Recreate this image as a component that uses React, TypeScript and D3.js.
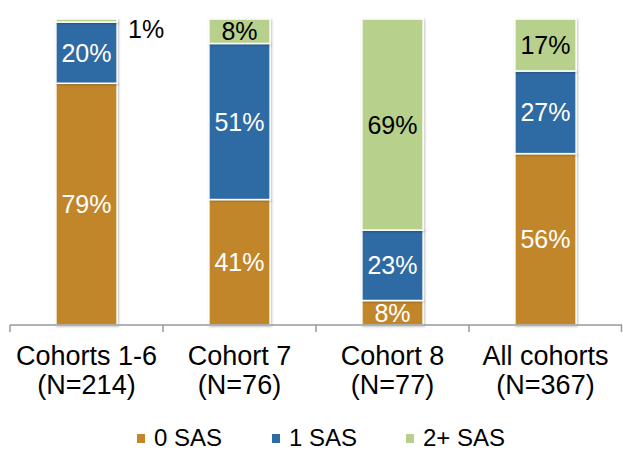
import { useEffect, useRef } from 'react';
import * as d3 from 'd3';

const categories = ['Cohorts 1-6', 'Cohort 7', 'Cohort 8', 'All cohorts'];
const sampleSizes = ['(N=214)', '(N=76)', '(N=77)', '(N=367)'];
const seriesNames = ['0 SAS', '1 SAS', '2+ SAS'];
const zeroSas = [79, 41, 8, 56];
const oneSas = [20, 51, 23, 27];
const twoPlusSas = [1, 8, 69, 17];
const colors = ['#C2862C', '#2E6BA4', '#B7D08B'];
const labelColors = ['#fff', '#fff', '#000'];

export default function App() {
    const svgRef = useRef<SVGSVGElement>(null);

    useEffect(() => {
        const svg = d3.select(svgRef.current);
        svg.selectAll('*').remove();

        const width = 623;
        const height = 450;
        const margin = { top: 19, right: 1, bottom: 125, left: 10 };
        const font = "'Liberation Sans', Arial, sans-serif";

        const rows = categories.map((c, i) => ({
            cat: c,
            '0 SAS': zeroSas[i],
            '1 SAS': oneSas[i],
            '2+ SAS': twoPlusSas[i],
        }));
        const stacked = d3.stack<any>().keys(seriesNames)(rows);

        const x = d3.scaleBand()
            .domain(categories)
            .range([margin.left, width - margin.right])
            .paddingInner(0.6)
            .paddingOuter(0.3);
        const y = d3.scaleLinear()
            .domain([0, 100])
            .range([height - margin.bottom, margin.top]);

        const defs = svg.append('defs');
        const f = defs.append('filter').attr('id', 'shadow')
            .attr('x', '-10%').attr('y', '-5%').attr('width', '130%').attr('height', '115%');
        f.append('feDropShadow')
            .attr('dx', 1).attr('dy', 1).attr('stdDeviation', 1.2)
            .attr('flood-color', '#000').attr('flood-opacity', 0.25);

        // bars
        stacked.forEach((layer, si) => {
            const g = svg.append('g').attr('filter', 'url(#shadow)');
            g.selectAll('rect')
                .data(layer)
                .enter().append('rect')
                .attr('x', d => x(d.data.cat)!)
                .attr('y', d => y(d[1]))
                .attr('width', x.bandwidth())
                .attr('height', d => y(d[0]) - y(d[1]))
                .attr('fill', colors[si])
                .attr('stroke', '#fff')
                .attr('stroke-width', 1.5);
        });

        // segment labels
        stacked.forEach((layer, si) => {
            layer.forEach(d => {
                const v = d[1] - d[0];
                const small = v < 3;
                svg.append('text')
                    .attr('x', small ? x(d.data.cat)! + x.bandwidth() + 29 : x(d.data.cat)! + x.bandwidth() / 2)
                    .attr('y', small ? y(d[1]) + 10 : (y(d[0]) + y(d[1])) / 2)
                    .attr('dy', '0.36em')
                    .attr('text-anchor', 'middle')
                    .style('font-family', font)
                    .style('font-size', '25px')
                    .style('fill', small ? '#000' : labelColors[si])
                    .text(`${v}%`);
            });
        });

        // axis
        const axisY = y(0);
        svg.append('line')
            .attr('x1', margin.left).attr('x2', width - margin.right)
            .attr('y1', axisY).attr('y2', axisY)
            .attr('stroke', '#999').attr('stroke-width', 1.5);
        const step = x.step();
        d3.range(categories.length + 1).forEach(i => {
            const tx = Math.min(margin.left + i * step, width - 1.5);
            svg.append('line')
                .attr('x1', tx).attr('x2', tx)
                .attr('y1', axisY).attr('y2', axisY + 7)
                .attr('stroke', '#999').attr('stroke-width', 1.5);
        });

        categories.forEach((c, i) => {
            const cx = x(c)! + x.bandwidth() / 2;
            const t = svg.append('text')
                .attr('text-anchor', 'middle')
                .style('font-family', font)
                .style('font-size', '27px')
                .style('fill', '#000');
            t.append('tspan').attr('x', cx).attr('y', 365).text(c);
            t.append('tspan').attr('x', cx).attr('y', 394).text(sampleSizes[i]);
        });

        // legend
        const legendX = [137, 272, 406];
        seriesNames.forEach((s, i) => {
            svg.append('rect')
                .attr('x', legendX[i]).attr('y', 434)
                .attr('width', 8).attr('height', 9)
                .attr('fill', colors[i]);
            svg.append('text')
                .attr('x', legendX[i] + 17).attr('y', 446)
                .style('font-family', font)
                .style('font-size', '24px')
                .style('fill', '#000')
                .text(s);
        });
    }, []);

    return (
        <svg
            ref={svgRef}
            width={623}
            height={450}
            style={{ position: 'absolute', left: 0, top: 0, background: '#fff' }}
        />
    );
}
